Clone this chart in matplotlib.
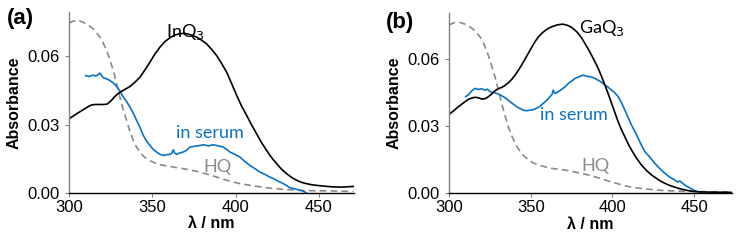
import matplotlib.pyplot as plt

plt.rcParams['font.family'] = ['Liberation Sans', 'DejaVu Sans']

# ---- panel (a) InQ3 ----
a_wl_complex = [300, 305, 309, 311.6, 313.6, 316, 318.6, 321, 323, 325.6, 328, 330.6, 333.5, 336.6,
                339.5, 342.6, 345.5, 348.6, 351.5, 354.6, 357.5, 360.6, 363.5, 366.6, 368.6, 370.6,
                373.5, 376.6, 379.5, 382.6, 385.5, 388.6, 391.5, 394.6, 397.5, 400.6, 403.5, 406.6,
                409.5, 412.6, 415.5, 418.6, 421.5, 424.6, 427.5, 430.6, 433.5, 436.6, 439.5, 442.6,
                446, 450.6, 455, 458.6, 464, 470.6]
a_abs_complex = [0.0326, 0.0350, 0.0368, 0.0380, 0.0387, 0.0389, 0.0389, 0.0389, 0.0391, 0.0408, 0.0428,
                 0.0443, 0.0455, 0.0468, 0.0486, 0.0509, 0.0540, 0.0575, 0.0610, 0.0641, 0.0665,
                 0.0682, 0.0694, 0.0700, 0.0701, 0.0700, 0.0694, 0.0685, 0.0672, 0.0655, 0.0632,
                 0.0604, 0.0570, 0.0531, 0.0482, 0.0429, 0.0383, 0.0341, 0.0300, 0.0260, 0.0222,
                 0.0187, 0.0156, 0.0129, 0.0105, 0.0085, 0.0069, 0.0056, 0.0047, 0.0041, 0.0036,
                 0.0032, 0.0029, 0.0027, 0.0026, 0.0029]
a_wl_hq = [300, 302, 304.6, 306.5, 308.6, 311.5, 314.6, 316.5, 318.6, 320.5, 322.6, 324.5, 326.6, 328.5,
           330.6, 332.5, 334.6, 336.5, 338.6, 340.5, 342.6, 344.5, 346.6, 349.5, 352.6, 355.5, 358.6,
           363.5, 368.6, 373.5, 378.6, 383.5, 388.6, 393.5, 398.6, 403.5, 408.6, 418.6, 428.6, 438.6,
           448, 458.6, 470.6]
a_abs_hq = [0.0746, 0.0754, 0.0758, 0.0756, 0.0750, 0.0738, 0.0721, 0.0705, 0.0685, 0.0659, 0.0626,
            0.0586, 0.0538, 0.0482, 0.0421, 0.0368, 0.0319, 0.0272, 0.0231, 0.0202, 0.0180, 0.0163,
            0.0151, 0.0139, 0.0129, 0.0123, 0.0119, 0.0113, 0.0107, 0.0100, 0.0092, 0.0082, 0.0070,
            0.0059, 0.0048, 0.0040, 0.0034, 0.0023, 0.0016, 0.0012, 0.0010, 0.0009, 0.0007]
a_wl_serum = [310, 312, 314.6, 316, 317.5, 318.6, 320.6, 322.5, 324.6, 326.5, 328.6, 330.5, 332.6, 334.5,
              336.6, 338.5, 340.6, 342.5, 344.6, 346.5, 348.6, 350.5, 352.6, 354.5, 356.6, 358.5,
              360.6, 361.8, 362.6, 363.5, 364.6, 366.5, 368.6, 370.5, 372.6, 375, 378.6, 381, 383.5,
              386.6, 389, 392.6, 394.5, 396.6, 399, 402.6, 405, 408.6, 411, 414.6, 417, 420.6, 423,
              426.6, 429, 432.6, 435, 438.6, 440.5, 442.6]
a_abs_serum = [0.0516, 0.0512, 0.0518, 0.0514, 0.0520, 0.0527, 0.0506, 0.0502, 0.0494, 0.0484, 0.0468,
               0.0449, 0.0421, 0.0403, 0.0377, 0.0352, 0.0319, 0.0290, 0.0253, 0.0228, 0.0209, 0.0192,
               0.0180, 0.0170, 0.0165, 0.0168, 0.0170, 0.0176, 0.0190, 0.0175, 0.0170, 0.0176, 0.0180,
               0.0188, 0.0202, 0.0205, 0.0209, 0.0212, 0.0207, 0.0212, 0.0208, 0.0202, 0.0192, 0.0180,
               0.0172, 0.0158, 0.0142, 0.0121, 0.0110, 0.0092, 0.0084, 0.0070, 0.0062, 0.0048, 0.0040,
               0.0023, 0.0020, 0.0012, 0.0008, 0.0000]

# ---- panel (b) GaQ3 ----
b_wl_complex = [300, 303, 305.7, 309, 311.8, 314, 315.9, 318, 320, 322, 324, 326, 328.1, 330, 332.2,
                334.3, 336.3, 338.4, 340.4, 342.4, 344.4, 346.5, 348.5, 350.6, 352.6, 354.7, 356.7,
                358.7, 360.7, 363.3, 365.8, 368, 369.9, 372.5, 375, 377, 379.1, 381.2, 383.2, 385.2,
                387.2, 389.2, 391.3, 393.3, 395.4, 397.5, 399.5, 401.5, 403.5, 405.5, 407.6, 409.6,
                411.7, 414.7, 417.8, 420.8, 423.9, 427, 430, 434, 438.2, 442, 446.3, 450, 454.5, 462,
                472.8]
b_abs_complex = [0.0352, 0.0369, 0.0386, 0.0404, 0.0419, 0.0425, 0.0428, 0.0426, 0.0420, 0.0422, 0.0430,
                 0.0442, 0.0457, 0.0466, 0.0472, 0.0481, 0.0493, 0.0508, 0.0527, 0.0548, 0.0572,
                 0.0598, 0.0624, 0.0651, 0.0676, 0.0697, 0.0713, 0.0725, 0.0735, 0.0744, 0.0750,
                 0.0753, 0.0754, 0.0749, 0.0740, 0.0728, 0.0713, 0.0692, 0.0668, 0.0643, 0.0616,
                 0.0588, 0.0557, 0.0522, 0.0483, 0.0442, 0.0401, 0.0360, 0.0319, 0.0284, 0.0252,
                 0.0221, 0.0193, 0.0157, 0.0126, 0.0102, 0.0082, 0.0066, 0.0052, 0.0038, 0.0027,
                 0.0019, 0.0012, 0.0008, 0.0006, 0.0005, 0.0004]
b_wl_hq = [300, 302.3, 304.7, 307.2, 309.8, 312.8, 315.9, 318, 320, 322, 324, 326, 328.1, 330.2, 332.2,
           334.3, 336.3, 338.4, 340.4, 342.4, 344.4, 346.5, 348.5, 351.5, 354.6, 358.7, 362.8, 368,
           373, 379, 385.2, 391.3, 397.4, 403.5, 409.6, 415.8, 421.9, 430, 438.2, 448, 458.6, 472.8]
b_abs_hq = [0.0750, 0.0759, 0.0763, 0.0761, 0.0754, 0.0742, 0.0725, 0.0707, 0.0686, 0.0655, 0.0616,
            0.0570, 0.0520, 0.0461, 0.0401, 0.0346, 0.0297, 0.0256, 0.0223, 0.0198, 0.0178, 0.0162,
            0.0149, 0.0136, 0.0126, 0.0118, 0.0111, 0.0106, 0.0101, 0.0092, 0.0082, 0.0069, 0.0055,
            0.0042, 0.0030, 0.0023, 0.0018, 0.0013, 0.0010, 0.0008, 0.0007, 0.0006]
b_wl_serum = [310.2, 312, 313.9, 316, 317.9, 320, 322, 323.5, 325.1, 327, 329.1, 331, 333.2, 335.3,
              337.3, 339.3, 341.4, 343.4, 345.4, 347.5, 349.5, 351.5, 353.6, 355.6, 357.7, 359.7,
              361.8, 363, 363.8, 364.8, 365.8, 367.3, 368.9, 371, 373, 375, 377.1, 379.6, 382.1,
              384.2, 386.2, 388.2, 390.3, 392.8, 395.4, 397.5, 399.5, 401.5, 403.5, 405.5, 407.6,
              409.6, 411.7, 413.7, 415.8, 417.8, 419.8, 422.8, 425.9, 429, 432.1, 435.1, 438.2, 440,
              441.2, 444.3, 447.3, 450.4, 452.4, 454.5]
b_abs_serum = [0.0431, 0.0440, 0.0457, 0.0468, 0.0463, 0.0466, 0.0460, 0.0464, 0.0453, 0.0450, 0.0446,
               0.0440, 0.0431, 0.0421, 0.0408, 0.0398, 0.0386, 0.0378, 0.0371, 0.0368, 0.0371, 0.0373,
               0.0379, 0.0388, 0.0401, 0.0414, 0.0431, 0.0440, 0.0460, 0.0445, 0.0448, 0.0456, 0.0463,
               0.0475, 0.0490, 0.0500, 0.0512, 0.0520, 0.0527, 0.0522, 0.0520, 0.0516, 0.0508, 0.0498,
               0.0483, 0.0472, 0.0460, 0.0448, 0.0431, 0.0405, 0.0371, 0.0338, 0.0304, 0.0276, 0.0245,
               0.0214, 0.0186, 0.0162, 0.0134, 0.0110, 0.0089, 0.0072, 0.0059, 0.0050, 0.0055, 0.0037,
               0.0024, 0.0012, 0.0007, 0.0003]

x_ticks = [300, 350, 400, 450]
y_ticks = [0.00, 0.03, 0.06]
y_ticklabels = ['0.00', '0.03', '0.06']

blue = '#0a72c6'
grey = '#8a8a8a'
note_font = ['Lato', 'DejaVu Sans']

fig = plt.figure(figsize=(7.49, 2.41), dpi=100)
ax1 = fig.add_axes([0.0921, 0.199, 0.3805, 0.751])
ax2 = fig.add_axes([0.5995, 0.198, 0.3774, 0.749])

panels = [
    (ax1, a_wl_complex, a_abs_complex, a_wl_hq, a_abs_hq, a_wl_serum, a_abs_serum, 471, 0.0795),
    (ax2, b_wl_complex, b_abs_complex, b_wl_hq, b_abs_hq, b_wl_serum, b_abs_serum, 473, 0.0805),
]
for ax, wc, ac, wh, ah, ws, as_, xmax, ymax in panels:
    ax.plot(wh, ah, color=grey, lw=1.2, ls=(0, (4, 2.5)))
    ax.plot(ws, as_, color=blue, lw=1.2)
    ax.plot(wc, ac, color='black', lw=1.2)
    ax.set_xlim(300, xmax)
    ax.set_ylim(0, ymax)
    ax.set_xticks(x_ticks)
    ax.set_yticks(y_ticks)
    ax.set_yticklabels(y_ticklabels)
    ax.spines['top'].set_visible(False)
    ax.spines['right'].set_visible(False)
    ax.spines['left'].set_color('#808080')
    ax.spines['bottom'].set_color('black')
    ax.spines['left'].set_linewidth(1.0)
    ax.spines['bottom'].set_linewidth(1.0)
    ax.tick_params(axis='both', direction='out', length=3, width=0.8, color='#808080',
                   labelsize=12, pad=2)
    ax.tick_params(axis='y', pad=4)
    ax.set_xlabel('λ / nm', fontsize=11.5, fontweight='bold', labelpad=1)
    ax.set_ylabel('Absorbance', fontsize=11.5, fontweight='bold', labelpad=4)

ax1.text(370, 0.0708, 'InQ$_3$', ha='center', va='center', fontsize=13, family=note_font)
ax1.text(384.5, 0.0262, 'in serum', ha='center', va='center', fontsize=13, color=blue, family=note_font)
ax1.text(389, 0.0115, 'HQ', ha='center', va='center', fontsize=13, color=grey, family=note_font)

ax2.text(393.5, 0.0735, 'GaQ$_3$', ha='center', va='center', fontsize=13, family=note_font)
ax2.text(376.5, 0.0349, 'in serum', ha='center', va='center', fontsize=13, color=blue, family=note_font)
ax2.text(389.5, 0.0123, 'HQ', ha='center', va='center', fontsize=13, color=grey, family=note_font)

fig.text(0.027, 0.925, '(a)', fontsize=16, fontweight='bold', ha='center', va='center')
fig.text(0.534, 0.905, '(b)', fontsize=16, fontweight='bold', ha='center', va='center')

plt.savefig('out.png', dpi=100)
